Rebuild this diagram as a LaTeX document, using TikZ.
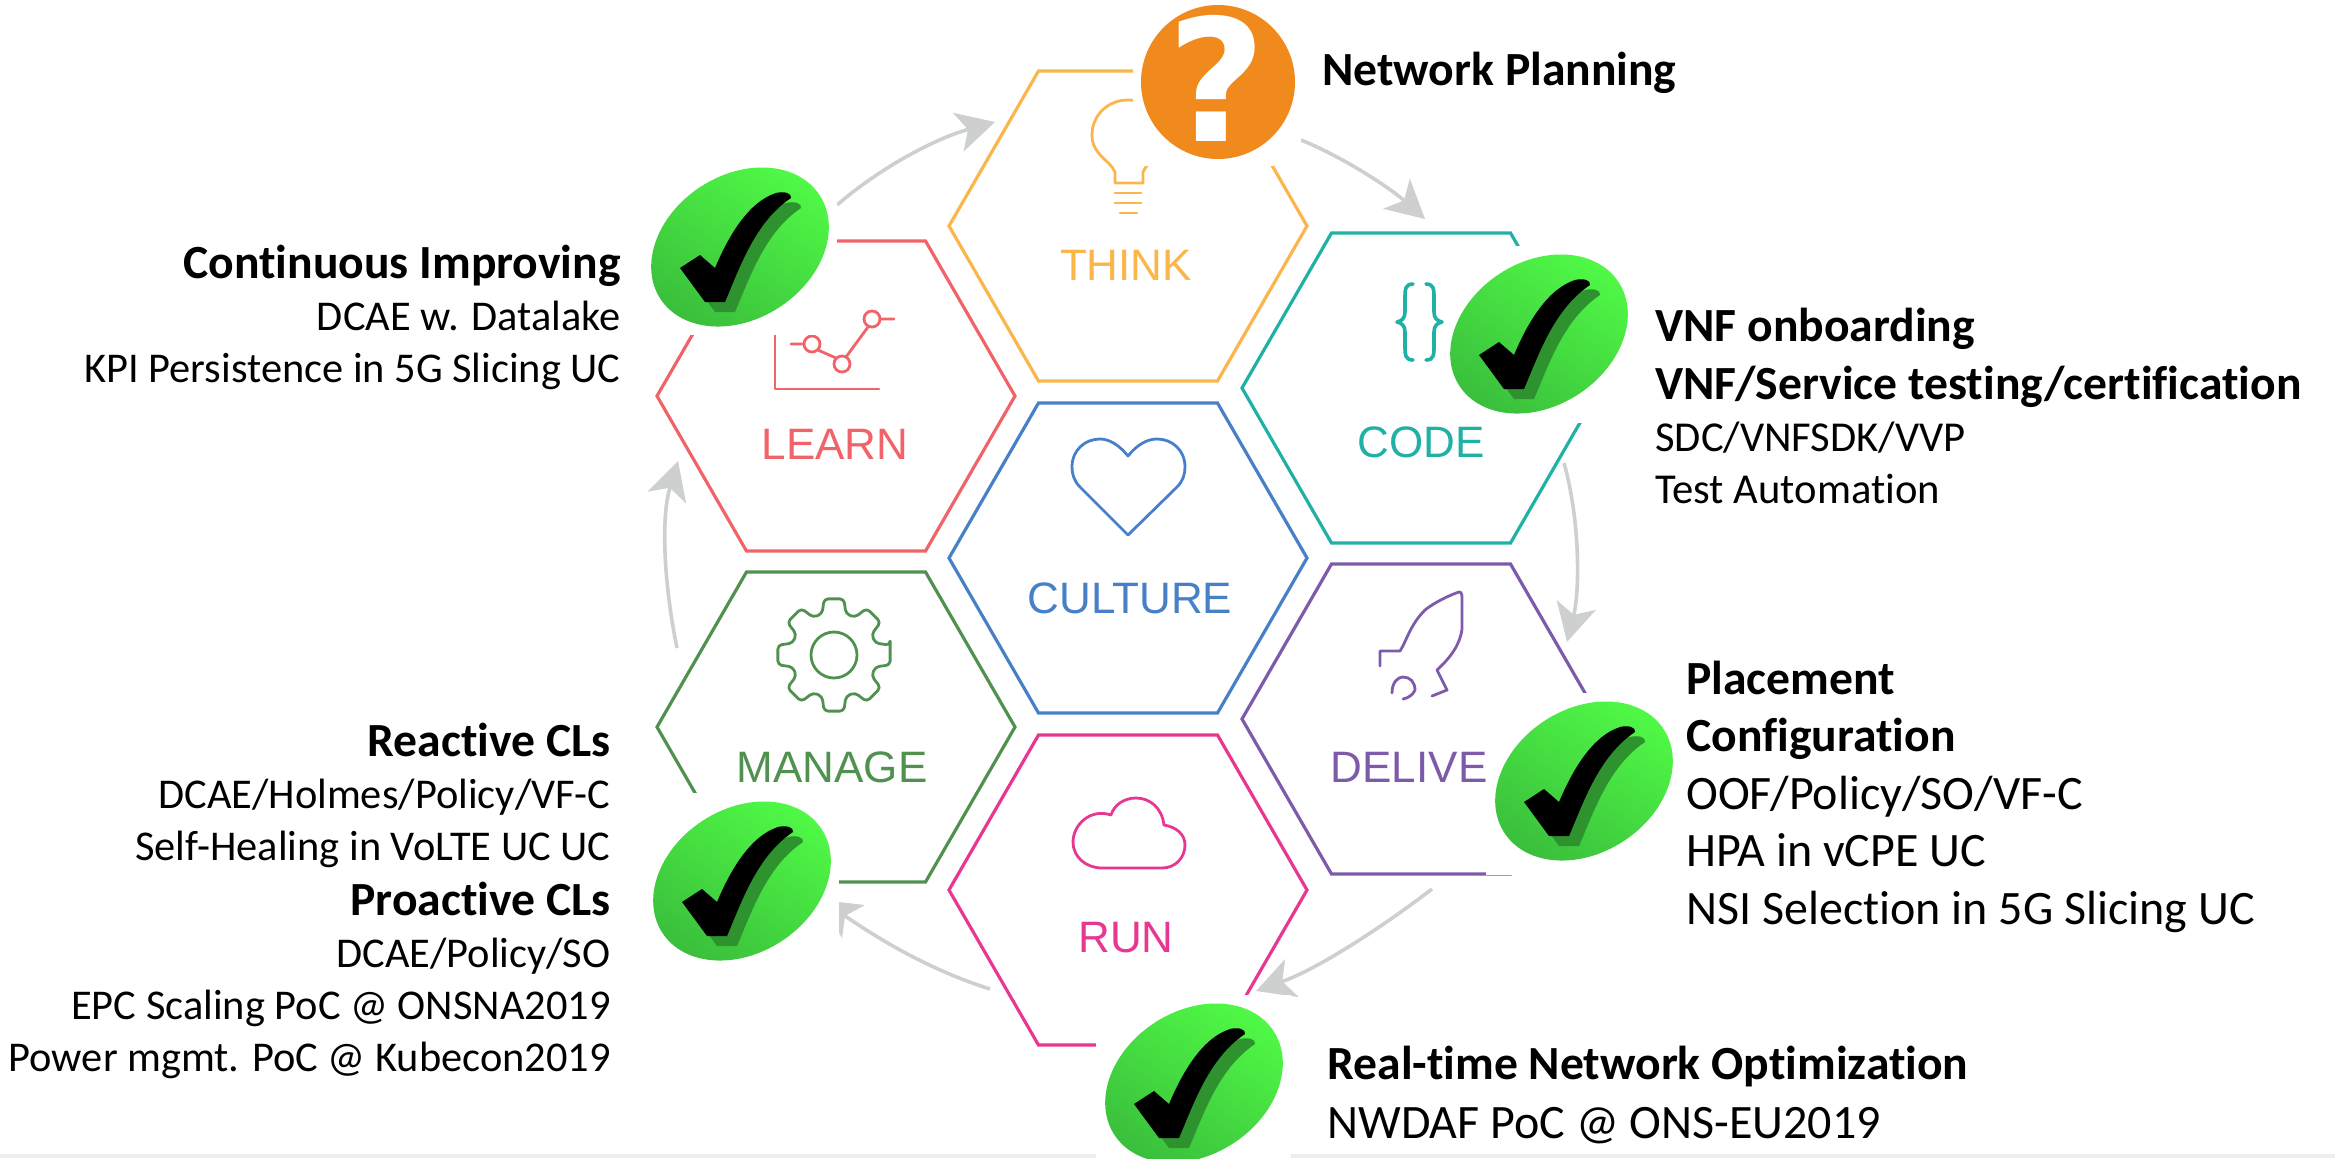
\documentclass[tikz,border=0pt]{standalone}
\usepackage{fontspec}
\setmainfont[Ligatures=NoCommon]{Carlito}
\newfontfamily\hexfont{Liberation Sans}
\newfontfamily\questfont{DejaVu Sans}
\usetikzlibrary{shapes.geometric,arrows.meta}
\definecolor{thinkc}{RGB}{250,182,75}
\definecolor{learnc}{RGB}{240,100,105}
\definecolor{codec}{RGB}{32,176,165}
\definecolor{culturec}{RGB}{72,128,200}
\definecolor{deliverc}{RGB}{125,90,170}
\definecolor{managec}{RGB}{80,145,80}
\definecolor{runc}{RGB}{232,55,145}
\definecolor{arrowc}{RGB}{205,208,207}
\definecolor{questc}{RGB}{240,138,29}
\definecolor{tickc}{RGB}{46,146,46}
\newcommand{\tickpath}{(-60,21) -- (-40,8) -- (-25,21) .. controls (-12,-10) and (8,-45) .. (36,-54) .. controls (44,-56) and (52,-54) .. (51,-49) .. controls (15,-25) and (0,20) .. (-15,55) -- (-35,55) -- cycle}
\newcommand{\headline}[1]{{\fontsize{23.8}{24}\selectfont\bfseries #1}}
\begin{document}
\begin{tikzpicture}[x=0.5pt,y=-0.5pt]
\tikzstyle{hexa}=[regular polygon, regular polygon sides=6, minimum size=179pt, inner sep=0pt, outer sep=0pt, line width=1.6pt]
\tikzstyle{hexlabel}=[anchor=base, inner sep=0pt, font=\hexfont\fontsize{22}{26}\selectfont]
\tikzstyle{icon}=[line width=1.4pt, line join=round, line cap=round]
\tikzstyle{connect}=[-{Stealth[length=19pt,width=20pt,inset=5pt]}, line width=1.8pt, arrowc]
\tikzstyle{mask}=[fill=white, draw=none]
\tikzstyle{badge}=[ellipse, minimum width=95pt, minimum height=72pt, inner sep=0pt, rotate=33, shade, shading=axis, top color={rgb,255:red,80;green,250;blue,70}, bottom color={rgb,255:red,58;green,190;blue,60}, shading angle=-33]
\tikzstyle{quest}=[circle, minimum size=77pt, inner sep=0pt, fill=questc]
\tikzstyle{questmark}=[inner sep=0pt, text=white, font=\questfont\bfseries\fontsize{85}{85}\selectfont]
\tikzstyle{textl}=[anchor=base east, align=right, inner sep=0pt, font=\fontsize{21.2}{26}\selectfont]
\tikzstyle{textr}=[anchor=base west, align=left, inner sep=0pt, font=\fontsize{21.3}{26}\selectfont]
  \useasboundingbox (0,0) rectangle (2335,1158);
  \fill[black!7] (0,1154) rectangle (2335,1158);

  \node[hexa, draw=thinkc] (think) at (1128,226) {};
  \node[hexa, draw=learnc] (learn) at (836,396) {};
  \node[hexa, draw=culturec] (culture) at (1128,558) {};
  \node[hexa, draw=managec] (manage) at (836,727) {};
  \node[hexa, draw=runc] (run) at (1128,890) {};
  \node[hexa, draw=codec] (code) at (1421,388) {};
  \node[hexa, draw=deliverc] (deliver) at (1421,719) {};

  \node[hexlabel, text=thinkc] (thinklabel) at (1126,280) {THINK};
  \node[hexlabel, text=learnc] (learnlabel) at (835,459) {LEARN};
  \node[hexlabel, text=culturec] (culturelabel) at (1130,613) {CULTURE};
  \node[hexlabel, text=managec] (managelabel) at (832,782) {MANAGE};
  \node[hexlabel, text=runc] (runlabel) at (1126,952) {RUN};
  \node[hexlabel, text=codec] (codelabel) at (1421,457) {CODE};
  \node[hexlabel, text=deliverc] (deliverlabel) at (1425,782) {DELIVER};

  % icons
  \draw[icon, thinkc] (1115,183) -- (1115,172) .. controls (1110,160) and (1092,155) .. (1092,135) .. controls (1092,115) and (1108,100) .. (1128,100) .. controls (1148,100) and (1164,115) .. (1164,135) .. controls (1164,155) and (1148,160) .. (1143,172) -- (1143,183) -- cycle;
  \draw[icon, thinkc] (1115,193) -- (1141,193) (1115,203) -- (1141,203) (1120,213) -- (1137,213);
  \draw[icon, learnc] (775,335) -- (775,389) -- (879,389);
  \draw[icon, learnc] (791,344) -- (804,344) (818,350) -- (836,358) (846,357) -- (868,327) (880,319) -- (894,319);
  \draw[icon, learnc] (812,344) circle (8) (842,364) circle (8) (872,319) circle (8);
  \draw[icon, culturec] (1128,535) -- (1080,487) .. controls (1074,481) and (1072,474) .. (1072,467) .. controls (1072,450) and (1085,439) .. (1100,439) .. controls (1110,439) and (1120,446) .. (1128,456) .. controls (1136,446) and (1146,439) .. (1157,439) .. controls (1172,439) and (1185,450) .. (1185,467) .. controls (1185,474) and (1183,481) .. (1177,487) -- cycle;
  \begin{scope}[shift={(834,655)}]
    \draw[icon, managec, rounded corners=2pt] (-10:57) \foreach \a in {0,45,...,315} { -- (\a-10:57) -- (\a+10:57) -- (\a+16:43) -- (\a+29:43) } -- cycle;
    \draw[icon, managec] (0,0) circle (23);
  \end{scope}
  \draw[icon, runc] (1102,868) -- (1162,868) .. controls (1176,868) and (1185,857) .. (1185,845) .. controls (1185,834) and (1176,827) .. (1164,825) .. controls (1162,808) and (1150,798) .. (1136,798) .. controls (1124,798) and (1114,805) .. (1111,815) .. controls (1090,808) and (1073,825) .. (1073,842) .. controls (1073,857) and (1086,868) .. (1102,868) -- cycle;
  \draw[icon, codec, line width=1.8pt] (1413,284) .. controls (1405,284) and (1405,290) .. (1405,296) -- (1405,312) .. controls (1405,318) and (1402,321) .. (1397,322) .. controls (1402,323) and (1405,326) .. (1405,332) -- (1405,348) .. controls (1405,354) and (1405,360) .. (1413,360);
  \draw[icon, codec, line width=1.8pt] (1426,284) .. controls (1434,284) and (1434,290) .. (1434,296) -- (1434,312) .. controls (1434,318) and (1437,321) .. (1442,322) .. controls (1437,323) and (1434,326) .. (1434,332) -- (1434,348) .. controls (1434,354) and (1434,360) .. (1426,360);
  \draw[icon, deliverc] (1380,666) -- (1380,651) -- (1400,651) .. controls (1407,640) and (1410,625) .. (1425,610) .. controls (1435,602) and (1450,595) .. (1459,592) .. controls (1462,592) and (1462,595) .. (1462,600) -- (1462,629) .. controls (1460,645) and (1450,658) .. (1437,670) -- (1447,690) -- (1432,696);
  \draw[icon, deliverc] (1392,693) .. controls (1392,682) and (1398,677) .. (1403,677) .. controls (1410,677) and (1415,682) .. (1415,690) .. controls (1413,695) and (1408,698) .. (1403,699);

  % arrows
  \coordinate (learnout) at (837,205);
  \coordinate (thinkin) at (995,122);
  \coordinate (thinkout) at (1301,140);
  \coordinate (codein) at (1425,219);
  \coordinate (codeout) at (1564,463);
  \coordinate (deliverin) at (1567,642);
  \coordinate (deliverout) at (1432,889);
  \coordinate (runin) at (1256,991);
  \coordinate (runout) at (990,989);
  \coordinate (managein) at (822,900);
  \coordinate (manageout) at (677,648);
  \coordinate (learnin) at (678,461);
  \draw[connect] (learnout) .. controls (875,172) and (930,140) .. (thinkin);
  \draw[connect] (thinkout) .. controls (1345,158) and (1390,188) .. (codein);
  \draw[connect] (codeout) .. controls (1580,520) and (1580,590) .. (deliverin);
  \draw[connect] (deliverout) .. controls (1385,925) and (1320,968) .. (runin);
  \draw[connect] (runout) .. controls (930,970) and (880,940) .. (managein);
  \draw[connect] (manageout) .. controls (665,590) and (660,520) .. (learnin);

  % white boxes behind the badges
  \fill[mask] (640,155) rectangle (837,335);
  \fill[mask] (1133,0) rectangle (1301,166);
  \fill[mask] (1446,246) rectangle (1640,423);
  \fill[mask] (1486,693) rectangle (1680,875);
  \fill[mask] (640,793) rectangle (839,970);
  \fill[mask] (1096,995) rectangle (1291,1158);

  \node[quest] (planning) at (1218,82) {};
  \node[questmark] (questionmark) at (1217,78) {?};
  \foreach \name/\x/\y in {improving/740/247, onboarding/1539/334, placement/1584/781, closedloop/742/881, optimization/1194/1083} {
    \node[badge] (\name) at (\x,\y) {};
    \begin{scope}[shift={(\x,\y)}]
      \fill[tickc, shift={(10,10)}] \tickpath;
      \fill[black] \tickpath;
    \end{scope}
  }

  \node[textr] (plantext) at (1322,85) {\headline{Network Planning}};
  \node[textl] (improvetext) at (621,382) {\headline{Continuous Improving}\\DCAE w. Datalake\\KPI Persistence in 5G Slicing UC};
  \node[textr] (onboardtext) at (1655,503) {\headline{VNF onboarding}\\[3pt]\headline{VNF/Service testing/certification}\\SDC/VNFSDK/VVP\\Test Automation};
  \node[textr, font=\fontsize{24}{28.7}\selectfont] (placetext) at (1686,924) {\headline{Placement}\\\headline{Configuration}\\OOF/Policy/SO/VF-C\\HPA in vCPE UC\\NSI Selection in 5G Slicing UC};
  \node[textl] (looptext) at (611,1071) {\headline{Reactive CLs}\\DCAE/Holmes/Policy/VF-C\\Self-Healing in VoLTE UC UC\\[1.5pt]\headline{Proactive CLs}\\DCAE/Policy/SO\\EPC Scaling PoC @ ONSNA2019\\Power mgmt. PoC @ Kubecon2019};
  \node[textr, font=\fontsize{24}{29.5}\selectfont] (optimtext) at (1327,1138) {\headline{Real-time Network Optimization}\\NWDAF PoC @ ONS-EU2019};
\end{tikzpicture}
\end{document}
